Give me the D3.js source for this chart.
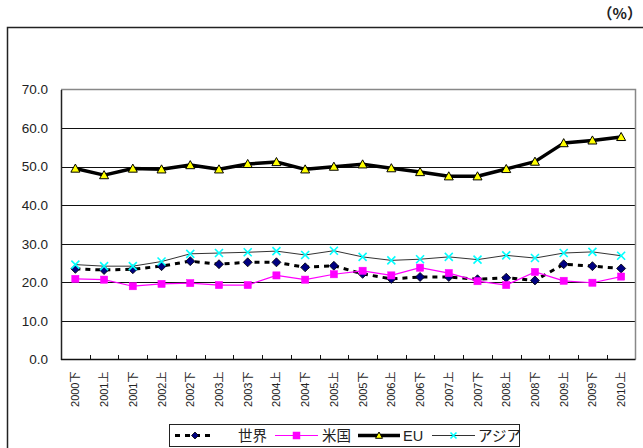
<!DOCTYPE html>
<html>
<head>
<meta charset="utf-8">
<script src="https://cdn.jsdelivr.net/npm/d3@7"></script>
<style>
  html, body { margin: 0; padding: 0; background: #fff; }
  svg { display: block; font-family: "Liberation Sans", Arial, "Noto Sans CJK JP", sans-serif; }
</style>
</head>
<body>
<svg id="chart" width="643" height="448"></svg>
<script>
// Half-year periods
const periods = ["2000下","2001上","2001下","2002上","2002下","2003上","2003下","2004上","2004下","2005上",
                 "2005下","2006上","2006下","2007上","2007下","2008上","2008下","2009上","2009下","2010上"];

// Shares (%) by region
const world = [23.5,23.2,23.4,24.2,25.5,24.7,25.2,25.2,23.9,24.3,22.2,20.9,21.4,21.4,20.8,21.2,20.5,24.7,24.2,23.6];
const usa   = [20.9,20.7,19.0,19.6,19.8,19.3,19.3,21.8,20.7,22.1,23.0,21.8,23.8,22.4,20.3,19.3,22.7,20.4,19.9,21.5];
const eu    = [49.5,47.8,49.5,49.3,50.4,49.3,50.7,51.2,49.3,50.0,50.6,49.6,48.6,47.5,47.5,49.4,51.3,56.1,56.8,57.7];
const asia  = [24.6,24.2,24.2,25.4,27.4,27.6,27.8,28.1,27.1,28.2,26.6,25.7,26.0,26.6,25.9,27.0,26.3,27.6,27.9,26.9];

const yTicks = [0,10,20,30,40,50,60,70];
const seriesNames = ["世界","米国","EU","アジア"];

const svg = d3.select("#chart");
const plot = { left: 61, right: 635.5, top: 89.5, bottom: 359.5 };

const x = d3.scaleBand().domain(periods).range([plot.left, plot.right]);
const y = d3.scaleLinear().domain([0, 70]).range([plot.bottom, plot.top]);

// Outer chart frame
svg.append("rect")
  .attr("x", 7.5).attr("y", 27.5).attr("width", 660).attr("height", 460)
  .attr("fill", "none").attr("stroke", "#222").attr("stroke-width", 1.5);

// Unit label
svg.append("text")
  .attr("x", 642).attr("y", 19).attr("text-anchor", "end")
  .attr("font-size", 15).attr("font-weight", "bold").attr("fill", "#222")
  .attr("font-family", "'Noto Sans CJK JP', sans-serif")
  .text("（%）");

// Horizontal gridlines
svg.append("g").selectAll("line")
  .data(yTicks.filter(d => d > 0 && d < 70))
  .join("line")
  .attr("x1", plot.left).attr("x2", plot.right)
  .attr("y1", d => Math.round(y(d)) + 0.5).attr("y2", d => Math.round(y(d)) + 0.5)
  .attr("stroke", "#111").attr("stroke-width", 1);

// Top and right borders of the plot area
svg.append("path")
  .attr("d", `M${plot.left},${plot.top}H${plot.right}V${plot.bottom}`)
  .attr("fill", "none").attr("stroke", "#888").attr("stroke-width", 1.5);

// Y axis
const yAxis = d3.axisLeft(y).tickValues(yTicks).tickFormat(d3.format(".1f")).tickSize(0).tickPadding(13);
const gy = svg.append("g").attr("transform", `translate(${plot.left},0)`).call(yAxis);
gy.select(".domain").attr("stroke", "#222").attr("stroke-width", 1.5);
gy.selectAll("text").attr("font-size", 13.5).attr("fill", "#222")
  .attr("font-family", "'Liberation Sans', Arial, sans-serif");

// X axis: baseline with inward ticks between periods
const gx = svg.append("g").attr("transform", `translate(0,${plot.bottom})`);
gx.append("line").attr("x1", plot.left).attr("x2", plot.right)
  .attr("stroke", "#111").attr("stroke-width", 1.5);
gx.selectAll("line.tick")
  .data(periods.slice(1))
  .join("line").attr("class", "tick")
  .attr("x1", d => Math.round(x(d)) + 0.5).attr("x2", d => Math.round(x(d)) + 0.5)
  .attr("y1", 0).attr("y2", -4.5)
  .attr("stroke", "#111").attr("stroke-width", 1);
gx.selectAll("text")
  .data(periods)
  .join("text")
  .attr("transform", d => `translate(${x(d) + x.bandwidth() / 2 + 4},12) rotate(-90)`)
  .attr("text-anchor", "end")
  .attr("font-size", 11).attr("fill", "#222")
  .text(d => d);

const cx = (d, i) => x(periods[i]) + x.bandwidth() / 2;
const line = d3.line().x((d, i) => cx(d, i)).y(d => y(d));

// Marker drawers
const markers = {
  diamond: (g, px, py, s = 4.5) => g.append("path")
    .attr("d", `M${px},${py - s}L${px + s},${py}L${px},${py + s}L${px - s},${py}Z`)
    .attr("fill", "#000080").attr("stroke", "#000").attr("stroke-width", 0.8),
  square: (g, px, py, s = 3.6) => g.append("rect")
    .attr("x", px - s).attr("y", py - s).attr("width", 2 * s).attr("height", 2 * s)
    .attr("fill", "#ff00ff").attr("stroke", "#ff00ff").attr("stroke-width", 0.5),
  triangle: (g, px, py, s = 4.5) => g.append("path")
    .attr("d", `M${px},${py - s}L${px + s},${py + s * 0.8}L${px - s},${py + s * 0.8}Z`)
    .attr("fill", "#ffff00").attr("stroke", "#000").attr("stroke-width", 1),
  cross: (g, px, py, s = 4) => g.append("path")
    .attr("d", `M${px - s},${py - s}L${px + s},${py + s}M${px + s},${py - s}L${px - s},${py + s}`)
    .attr("fill", "none").attr("stroke", "#00ffff").attr("stroke-width", 1.6)
};

const series = [
  { name: seriesNames[0], values: world, stroke: "#000", width: 3, dash: "5,5", marker: "diamond" },
  { name: seriesNames[1], values: usa, stroke: "#ff00ff", width: 1.2, dash: null, marker: "square" },
  { name: seriesNames[2], values: eu, stroke: "#000", width: 3.5, dash: null, marker: "triangle" },
  { name: seriesNames[3], values: asia, stroke: "#333", width: 1, dash: null, marker: "cross" }
];

series.forEach(s => {
  const g = svg.append("g");
  g.append("path").datum(s.values)
    .attr("d", line)
    .attr("fill", "none").attr("stroke", s.stroke).attr("stroke-width", s.width)
    .attr("stroke-dasharray", s.dash).attr("stroke-linejoin", "round");
  s.values.forEach((v, i) => markers[s.marker](g, cx(v, i), y(v)));
});

// Legend
const lg = svg.append("g");
lg.append("rect").attr("x", 169.5).attr("y", 424.5).attr("width", 350).attr("height", 22)
  .attr("fill", "#fff").attr("stroke", "#222").attr("stroke-width", 1);
const legendItems = [
  { s: series[0], x0: 175, x1: 215, tx: 238 },
  { s: series[1], x0: 275, x1: 318, tx: 322 },
  { s: series[2], x0: 358, x1: 400, tx: 403 },
  { s: series[3], x0: 432, x1: 475, tx: 478 }
];
const ly = 435.5;
legendItems.forEach(it => {
  lg.append("line").attr("x1", it.x0).attr("x2", it.x1).attr("y1", ly).attr("y2", ly)
    .attr("stroke", it.s.stroke).attr("stroke-width", it.s.width)
    .attr("stroke-dasharray", it.s.dash);
  markers[it.s.marker](lg, (it.x0 + it.x1) / 2, ly, it.s.marker === "cross" ? 3 : 3.5);
  lg.append("text").attr("x", it.tx).attr("y", ly + 5.5)
    .attr("font-size", 14.5).attr("fill", "#222")
    .attr("font-family", "'Liberation Sans', 'Noto Sans CJK JP', sans-serif")
    .text(it.s.name);
});
</script>
</body>
</html>
